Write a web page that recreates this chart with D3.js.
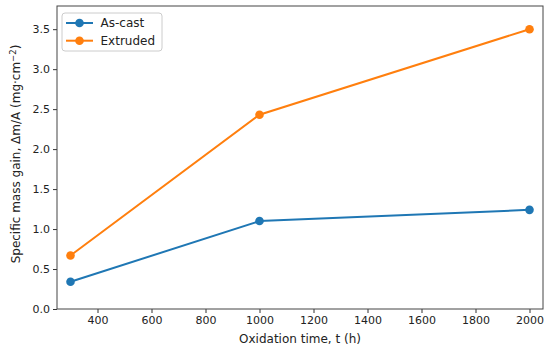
<!DOCTYPE html>
<html>
<head>
<meta charset="utf-8">
<script src="https://cdn.jsdelivr.net/npm/d3@7"></script>
<style>
  body { margin: 0; background: #fff; }
  text { font-family: "DejaVu Sans", sans-serif; fill: #222; }
</style>
</head>
<body>
<script>
var hours = [300, 1000, 2000];
var asCast = [0.34, 1.10, 1.24];
var extruded = [0.67, 2.43, 3.50];
var seriesNames = ["As-cast", "Extruded"];
var seriesColors = ["#1f77b4", "#ff7f0e"];
var xTicks = [400, 600, 800, 1000, 1200, 1400, 1600, 1800, 2000];
var yTicks = [0, 0.5, 1, 1.5, 2, 2.5, 3, 3.5];

var width = 550, height = 352;
var margin = { top: 6, right: 7, bottom: 43, left: 57 };
var w = width - margin.left - margin.right;
var h = height - margin.top - margin.bottom;

var svg = d3.select("body").append("svg")
    .attr("width", width)
    .attr("height", height);
var g = svg.append("g")
    .attr("transform", "translate(" + margin.left + "," + margin.top + ")");

var x = d3.scaleLinear().domain([250, 2050]).range([0, w]);
var y = d3.scaleLinear().domain([0, 3.79]).range([h, 0]);

var xAxis = g.append("g")
    .attr("transform", "translate(0," + h + ")")
    .call(d3.axisBottom(x).tickValues(xTicks).tickFormat(d3.format("d")).tickSizeOuter(0).tickSize(4).tickPadding(3));
var yAxis = g.append("g")
    .call(d3.axisLeft(y).tickValues(yTicks).tickFormat(d3.format(".1f")).tickSizeOuter(0).tickSize(4).tickPadding(3));

[xAxis, yAxis].forEach(function (a) {
    a.selectAll("text").style("font-size", "11px").style("font-family", "DejaVu Sans").attr("fill", "#222");
    a.selectAll("line").attr("stroke", "#333");
    a.select(".domain").remove();
});

g.append("rect")
    .attr("width", w).attr("height", h)
    .attr("fill", "none").attr("stroke", "#444").attr("stroke-width", 1);

svg.append("text")
    .attr("x", margin.left + w / 2).attr("y", 343)
    .attr("text-anchor", "middle").style("font-size", "12px")
    .text("Oxidation time, t (h)");

svg.append("text")
    .attr("transform", "translate(20,154) rotate(-90)")
    .attr("text-anchor", "middle").style("font-size", "12px")
    .html("Specific mass gain, Δm/A (mg·cm<tspan dy='-4' font-size='8.5px'>−2</tspan><tspan dy='4'>)</tspan>");

var series = [asCast, extruded];
var line = d3.line()
    .x(function (d, i) { return x(hours[i]); })
    .y(function (d) { return y(d); });

series.forEach(function (vals, k) {
    g.append("path")
        .datum(vals)
        .attr("d", line)
        .attr("fill", "none")
        .attr("stroke", seriesColors[k])
        .attr("stroke-width", 2);
    g.selectAll(".pt" + k)
        .data(vals)
        .enter()
        .append("circle")
        .attr("cx", function (d, i) { return x(hours[i]); })
        .attr("cy", function (d) { return y(d); })
        .attr("r", 4.3)
        .attr("fill", seriesColors[k]);
});

var legend = g.append("g").attr("transform", "translate(5,7)");
legend.append("rect")
    .attr("width", 100).attr("height", 38).attr("rx", 3)
    .attr("fill", "#fff").attr("fill-opacity", 0.8)
    .attr("stroke", "#ccc");
seriesNames.forEach(function (name, k) {
    var ly = 10 + k * 17.7;
    legend.append("line")
        .attr("x1", 4).attr("x2", 31).attr("y1", ly).attr("y2", ly)
        .attr("stroke", seriesColors[k]).attr("stroke-width", 2);
    legend.append("circle")
        .attr("cx", 17.5).attr("cy", ly).attr("r", 4.3)
        .attr("fill", seriesColors[k]);
    legend.append("text")
        .attr("x", 38.5).attr("y", ly + 4.3)
        .style("font-size", "12px")
        .text(name);
});
</script>
</body>
</html>
